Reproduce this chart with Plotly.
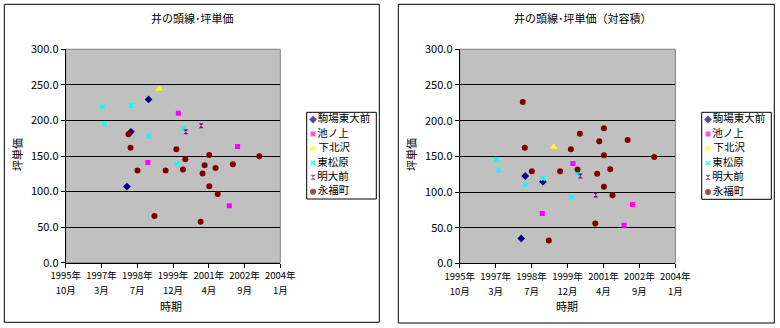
import plotly.graph_objects as go

W, H = 780, 328

# ---------------- data ----------------
stations = ["駒場東大前", "池ノ上", "下北沢", "東松原", "明大前", "永福町"]
colors = ["#000080", "#FF00FF", "#FFFF00", "#00FFFF", "#800080", "#800000"]
symbols = ["diamond", "square", "triangle-up", "x", "hourglass", "circle"]
sizes = [6, 5, 7, 5, 5, 6]

komaba_dates = ["1998-12-29", "1998-04-27", "1998-03-02"]
komaba_price = [229.5, 184.0, 107.0]
komaba_ratio = [114.5, 122.5, 35.0]

ikenoue_dates = ["2000-02-19", "2002-05-27", "1998-12-20", "2002-01-31"]
ikenoue_price = [210.0, 163.5, 141.0, 80.0]
ikenoue_ratio = [140.0, 82.5, 70.0, 53.5]

shimokita_dates = ["1999-05-27"]
shimokita_price = [244.5]
shimokita_ratio = [163.0]

higashimatsu_dates = ["1997-03-24", "1997-04-21", "1998-04-29", "1998-12-29", "2000-01-31", "2000-04-26"]
higashimatsu_price = [219.5, 195.0, 221.0, 178.0, 139.0, 188.5]
higashimatsu_ratio = [146.0, 130.5, 110.5, 119.0, 92.5, 126.0]

meidai_dates = ["2000-06-02", "2001-01-02"]
meidai_price = [184.0, 192.5]
meidai_ratio = [122.5, 96.0]

eifuku_dates = ["1998-03-24", "1998-04-21", "1998-07-28", "1999-03-21", "1999-08-25",
                "2000-01-22", "2000-04-24", "2000-05-26", "2000-12-26", "2001-01-22",
                "2001-02-20", "2001-04-26", "2001-04-26", "2001-04-26", "2001-07-23",
                "2001-08-23", "2002-03-22", "2003-03-27"]
eifuku_price = [180.5, 161.5, 129.5, 65.5, 129.5, 159.5, 131.0, 145.5, 57.5, 125.5,
                137.0, 151.5, 107.5, None, 133.0, 96.5, 138.5, 149.5]
eifuku_ratio = [226.0, 162.0, 129.0, 32.0, 129.0, 160.0, 131.5, 181.5, 56.0, 125.5,
                171.0, 151.5, 107.5, 189.5, 132.0, 95.5, 173.0, 149.0]

x_tick_dates = ["1995-10-28", "1997-03-11", "1998-07-24", "1999-12-06",
                "2001-04-19", "2002-09-01", "2004-01-14"]
x_tick_year = ["1995年", "1997年", "1998年", "1999年", "2001年", "2002年", "2004年"]
x_tick_month = ["10月", "3月", "7月", "12月", "4月", "9月", "1月"]
y_range = [0, 300]

titles = ["井の頭線･坪単価", "井の頭線･坪単価（対容積）"]
x_title = "時期"
y_title = "坪単価"

series_dates = [komaba_dates, ikenoue_dates, shimokita_dates, higashimatsu_dates, meidai_dates, eifuku_dates]
series_left = [komaba_price, ikenoue_price, shimokita_price, higashimatsu_price, meidai_price, eifuku_price]
series_right = [komaba_ratio, ikenoue_ratio, shimokita_ratio, higashimatsu_ratio, meidai_ratio, eifuku_ratio]

# ---------------- layout helpers ----------------
FONT = "Noto Sans CJK JP, sans-serif"
FS = 11
XFS = 9.5
LFS = 10.5

def px_x(x):
    return x / W

def px_y(y):
    return 1 - y / H

# plot areas in pixels: (left, right, top, bottom)
plots = [(65.7, 280.3, 49.3, 262.7), (459.7, 675.3, 49.3, 263.4)]
legends = [(306.7, 376.3, 112.3, 199.0), (701.7, 771.3, 112.3, 199.3)]
frames = [(4.3, 379.3, 4.3, 322.3), (398.3, 774.3, 4.3, 323.0)]
title_pos = [(192, 18), (583, 18)]
xtitle_pos = [(171, 306), (567, 306)]
ytitle_pos = [(17, 155), (411, 155)]

fig = go.Figure()

for k, values in enumerate([series_left, series_right]):
    xa = "x" if k == 0 else "x2"
    ya = "y" if k == 0 else "y2"
    for i, name in enumerate(stations):
        fig.add_trace(go.Scatter(
            x=series_dates[i], y=values[i], mode="markers", name=name,
            xaxis=xa, yaxis=ya, showlegend=False,
            marker=dict(symbol=symbols[i], color=colors[i], size=sizes[i],
                        line=dict(width=0)),
        ))
    # empty trace so the month-label overlay axis gets its subplot
    fig.add_trace(go.Scatter(x=[], y=[], xaxis="x" + str(k + 5), yaxis=ya,
                             showlegend=False, hoverinfo="skip"))
    # legend drawn with library scale on a helper axis
    lx = "x3" if k == 0 else "x4"
    ly = "y3" if k == 0 else "y4"
    fig.add_trace(go.Scatter(
        x=[0] * len(stations), y=list(range(len(stations))), mode="markers+text",
        text=stations, textposition="middle right",
        textfont=dict(family=FONT, size=LFS, color="black"),
        marker=dict(symbol=symbols, color=colors, size=sizes, line=dict(width=0)),
        xaxis=lx, yaxis=ly, showlegend=False, hoverinfo="skip", cliponaxis=False,
    ))

layout = dict(
    width=W, height=H, autosize=False,
    margin=dict(l=0, r=0, t=0, b=0, autoexpand=False),
    paper_bgcolor="white", plot_bgcolor="#C0C0C0",
    font=dict(family=FONT, size=FS, color="black"),
    showlegend=False,
)

for k in range(2):
    l, r, t, b = plots[k]
    sx = "" if k == 0 else "2"
    layout["xaxis" + sx] = dict(
        domain=[px_x(l), px_x(r)], type="date",
        range=[x_tick_dates[0], x_tick_dates[-1]],
        tickmode="array", tickvals=x_tick_dates, ticktext=x_tick_year, tickangle=0,
        ticks="outside", ticklen=4, tickcolor="black", showgrid=False, zeroline=False,
        showline=True, linecolor="black", linewidth=1, automargin=False,
        anchor="y" + sx, tickfont=dict(family=FONT, size=XFS, color="black"),
    )
    # second line of the tick labels (months)
    layout["xaxis" + str(k + 5)] = dict(
        domain=[px_x(l), px_x(r)], type="date", overlaying="x" + sx,
        range=[x_tick_dates[0], x_tick_dates[-1]],
        tickmode="array", tickvals=x_tick_dates, ticktext=x_tick_month, tickangle=0,
        ticks="outside", ticklen=4, tickcolor="rgba(0,0,0,0)", showgrid=False, zeroline=False,
        showline=False, automargin=False, ticklabelstandoff=15,
        anchor="y" + sx, side="bottom", tickfont=dict(family=FONT, size=XFS, color="black"),
    )
    layout["yaxis" + sx] = dict(
        domain=[px_y(b), px_y(t)], range=y_range, dtick=50, tickformat=".1f",
        ticks="outside", ticklen=4, tickcolor="black",
        showgrid=True, gridcolor="black", gridwidth=1, zeroline=False,
        showline=True, linecolor="black", linewidth=1, automargin=False,
        anchor="x" + sx, tickfont=dict(family=FONT, size=FS, color="black"),
    )
    ll, lr, lt, lb = legends[k]
    lsx = str(k + 3)
    layout["xaxis" + lsx] = dict(domain=[px_x(ll), px_x(lr)], range=[-1, 10], visible=False,
                                 anchor="y" + lsx, fixedrange=True, automargin=False)
    layout["yaxis" + lsx] = dict(domain=[px_y(lb), px_y(lt)], range=[len(stations) - 0.5, -0.5],
                                 visible=False, anchor="x" + lsx, fixedrange=True, automargin=False)

shapes = []
for k in range(2):
    fl, fr, ft, fb = frames[k]
    shapes.append(dict(type="rect", xref="paper", yref="paper",
                       x0=px_x(fl), x1=px_x(fr), y0=px_y(fb), y1=px_y(ft),
                       line=dict(color="black", width=1), fillcolor="rgba(0,0,0,0)", layer="above"))
    ll, lr, lt, lb = legends[k]
    shapes.append(dict(type="rect", xref="paper", yref="paper",
                       x0=px_x(ll), x1=px_x(lr), y0=px_y(lb), y1=px_y(lt),
                       line=dict(color="black", width=1), fillcolor="white", layer="below"))
    l, r, t, b = plots[k]
    shapes.append(dict(type="rect", xref="paper", yref="paper",
                       x0=px_x(l), x1=px_x(r), y0=px_y(b), y1=px_y(t),
                       line=dict(color="#808080", width=1), fillcolor="rgba(0,0,0,0)", layer="below"))
layout["shapes"] = shapes

annotations = []
for k in range(2):
    annotations.append(dict(text=titles[k], xref="paper", yref="paper",
                            x=px_x(title_pos[k][0]), y=px_y(title_pos[k][1]),
                            xanchor="center", yanchor="middle",
                            showarrow=False, font=dict(family=FONT, size=FS, color="black")))
    annotations.append(dict(text=x_title, xref="paper", yref="paper",
                            x=px_x(xtitle_pos[k][0]), y=px_y(xtitle_pos[k][1]),
                            xanchor="center", yanchor="middle",
                            showarrow=False, font=dict(family=FONT, size=FS, color="black")))
    annotations.append(dict(text=y_title, xref="paper", yref="paper", textangle=-90,
                            x=px_x(ytitle_pos[k][0]), y=px_y(ytitle_pos[k][1]),
                            xanchor="center", yanchor="middle",
                            showarrow=False, font=dict(family=FONT, size=FS, color="black")))
layout["annotations"] = annotations

fig.update_layout(**layout)
fig.write_html("out.html")
